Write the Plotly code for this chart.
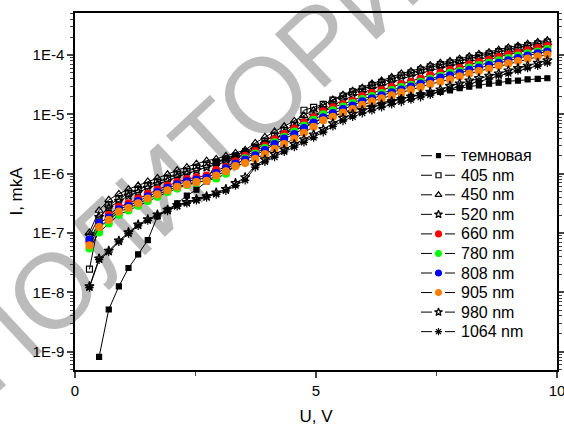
import plotly.graph_objects as go

# Voltage, V
U = [0.30, 0.50, 0.70, 0.91, 1.11, 1.31, 1.51, 1.71, 1.92, 2.12, 2.32, 2.52,
     2.73, 2.93, 3.13, 3.33, 3.53, 3.74, 3.94, 4.14, 4.34, 4.55, 4.75, 4.95,
     5.15, 5.35, 5.56, 5.76, 5.96, 6.16, 6.36, 6.57, 6.77, 6.97, 7.17, 7.37,
     7.58, 7.78, 7.98, 8.18, 8.38, 8.59, 8.79, 8.99, 9.19, 9.39, 9.60, 9.80]

# log10 of current I (mkA)
lg_dark = [None, -9.09, -8.29, -7.90, -7.59, -7.36, -7.12, -6.72,
           -6.61, -6.50, -6.37, -6.27, -6.13, -5.80, -5.74, -5.69,
           -5.62, -5.55, -5.48, -5.41, -5.33, -5.26, -5.19, -5.13,
           -5.07, -5.02, -4.97, -4.92, -4.88, -4.84, -4.80, -4.76,
           -4.73, -4.70, -4.67, -4.645, -4.62, -4.595, -4.556, -4.53,
           -4.51, -4.48, -4.465, -4.44, -4.43, -4.41, -4.40, -4.39]
lg_405 = [-7.61, -6.78, -6.53, -6.43, -6.33, -6.27, -6.20, -6.14,
          -6.08, -6.01, -5.96, -5.90, -5.85, -5.81, -5.77, -5.72,
          -5.66, -5.55, -5.45, -5.36, -5.27, -5.18, -4.93, -4.88,
          -4.83, -4.76, -4.69, -4.62, -4.57, -4.51, -4.46, -4.40,
          -4.34, -4.30, -4.25, -4.20, -4.16, -4.13, -4.09, -4.05,
          -4.01, -3.98, -3.94, -3.90, -3.87, -3.84, -3.81, -3.78]
lg_450 = [-6.99, -6.62, -6.44, -6.34, -6.26, -6.20, -6.13, -6.07,
          -6.01, -5.94, -5.89, -5.83, -5.78, -5.75, -5.70, -5.65,
          -5.60, -5.48, -5.38, -5.29, -5.20, -5.11, -5.02, -4.93,
          -4.84, -4.75, -4.67, -4.60, -4.55, -4.48, -4.43, -4.37,
          -4.31, -4.27, -4.22, -4.17, -4.13, -4.10, -4.06, -4.02,
          -3.98, -3.95, -3.91, -3.87, -3.84, -3.81, -3.78, -3.75]
lg_520 = [-7.05, -6.73, -6.57, -6.46, -6.37, -6.31, -6.24, -6.18,
          -6.12, -6.05, -6.00, -5.94, -5.89, -5.85, -5.80, -5.74,
          -5.67, -5.59, -5.50, -5.41, -5.31, -5.21, -5.11, -5.02,
          -4.93, -4.84, -4.76, -4.69, -4.64, -4.57, -4.52, -4.46,
          -4.40, -4.36, -4.31, -4.26, -4.22, -4.19, -4.15, -4.11,
          -4.07, -4.04, -4.00, -3.96, -3.93, -3.90, -3.87, -3.84]
lg_660 = [-7.15, -6.86, -6.70, -6.56, -6.50, -6.42, -6.34, -6.27,
          -6.20, -6.14, -6.09, -6.06, -6.03, -5.94, -5.89, -5.79,
          -5.70, -5.62, -5.53, -5.42, -5.33, -5.24, -5.14, -5.05,
          -4.95, -4.88, -4.83, -4.77, -4.69, -4.64, -4.59, -4.54,
          -4.49, -4.45, -4.40, -4.34, -4.30, -4.25, -4.22, -4.16,
          -4.12, -4.08, -4.03, -3.99, -3.96, -3.92, -3.88, -3.85]
lg_780 = [-7.26, -6.99, -6.84, -6.69, -6.62, -6.54, -6.46, -6.39,
          -6.31, -6.25, -6.19, -6.15, -6.11, -6.08, -6.00, -5.86,
          -5.74, -5.66, -5.57, -5.47, -5.38, -5.29, -5.19, -5.09,
          -5.00, -4.93, -4.87, -4.81, -4.74, -4.69, -4.64, -4.59,
          -4.54, -4.50, -4.45, -4.40, -4.35, -4.30, -4.27, -4.21,
          -4.17, -4.13, -4.09, -4.05, -4.01, -3.97, -3.94, -3.90]
lg_808 = [-7.11, -6.83, -6.74, -6.60, -6.54, -6.46, -6.38, -6.31,
          -6.24, -6.18, -6.13, -6.10, -6.07, -5.99, -5.91, -5.83,
          -5.76, -5.69, -5.60, -5.50, -5.41, -5.33, -5.23, -5.14,
          -5.05, -4.98, -4.91, -4.85, -4.78, -4.73, -4.68, -4.63,
          -4.58, -4.53, -4.48, -4.43, -4.38, -4.34, -4.30, -4.25,
          -4.21, -4.17, -4.13, -4.09, -4.05, -4.01, -3.97, -3.94]
lg_905 = [-7.21, -6.90, -6.78, -6.64, -6.58, -6.50, -6.42, -6.35,
          -6.28, -6.22, -6.18, -6.14, -6.12, -6.03, -5.96, -5.87,
          -5.82, -5.75, -5.67, -5.58, -5.50, -5.41, -5.31, -5.21,
          -5.10, -5.04, -4.97, -4.91, -4.84, -4.78, -4.73, -4.68,
          -4.63, -4.58, -4.54, -4.49, -4.45, -4.41, -4.36, -4.31,
          -4.27, -4.23, -4.18, -4.14, -4.10, -4.06, -4.02, -3.99]
lg_980 = [-7.90, -7.43, -7.30, -7.13, -6.99, -6.86, -6.77, -6.69,
          -6.61, -6.53, -6.48, -6.43, -6.38, -6.32, -6.26, -6.16,
          -6.06, -5.86, -5.76, -5.67, -5.59, -5.50, -5.42, -5.34,
          -5.25, -5.15, -5.06, -4.99, -4.93, -4.88, -4.83, -4.78,
          -4.74, -4.70, -4.66, -4.62, -4.58, -4.52, -4.48, -4.43,
          -4.39, -4.35, -4.31, -4.26, -4.22, -4.18, -4.13, -4.09]
lg_1064 = [-7.92, -7.45, -7.32, -7.15, -7.01, -6.88, -6.79, -6.71,
           -6.63, -6.55, -6.50, -6.45, -6.40, -6.35, -6.29, -6.20,
           -6.11, -5.89, -5.80, -5.72, -5.63, -5.55, -5.47, -5.39,
           -5.30, -5.20, -5.11, -5.04, -4.98, -4.93, -4.88, -4.83,
           -4.79, -4.75, -4.71, -4.67, -4.62, -4.57, -4.53, -4.48,
           -4.44, -4.40, -4.35, -4.31, -4.26, -4.22, -4.18, -4.13]

names = ["темновая", "405 nm", "450 nm", "520 nm", "660 nm",
         "780 nm", "808 nm", "905 nm", "980 nm", "1064 nm"]

y_decades = [-9, -8, -7, -6, -5, -4]
y_ticktext = ["1E-9", "1E-8", "1E-7", "1E-6", "1E-5", "1E-4"]
x_tickvals = [0, 5, 10]
x_ticktext = ["0", "5", "10"]
x_minor = [2.5, 7.5]

series = [lg_dark, lg_405, lg_450, lg_520, lg_660, lg_780, lg_808, lg_905, lg_980, lg_1064]
styles = [
    dict(symbol="square", color="black", size=5),
    dict(symbol="square-open", color="black", size=6),
    dict(symbol="triangle-up-open", color="black", size=7),
    dict(symbol="star-open", color="black", size=7),
    dict(symbol="circle", color="#ff0000", size=7),
    dict(symbol="circle", color="#00ff00", size=7),
    dict(symbol="circle", color="#0000ff", size=7),
    dict(symbol="circle", color="#ff8000", size=7),
    dict(symbol="star-open", color="black", size=7),
    dict(symbol="asterisk-open", color="black", size=7),
]

FONT = "Liberation Sans, Arial, sans-serif"
W, H = 564, 426
L, R, T, B = 75, 7, 13, 56
PW, PH = W - L - R, H - T - B

def px2paper(px, py):
    return (px - L) / PW, (H - B - py) / PH

fig = go.Figure()
for name, lg, st in zip(names, series, styles):
    yv = [None if v is None else 10 ** v for v in lg]
    fig.add_trace(go.Scatter(
        x=U, y=yv, name=name, mode="lines+markers", showlegend=False,
        line=dict(color="black", width=1),
        marker=dict(symbol=st["symbol"], size=st["size"], color=st["color"],
                    line=dict(color=st["color"], width=1.2)),
    ))

# Hand-drawn legend (Origin style: line - marker - line)
leg_top, leg_step = 155.7, 19.55
for k, (name, st) in enumerate(zip(names, styles)):
    yc = leg_top + k * leg_step
    xa, ya = px2paper(421, yc)
    xb, _ = px2paper(432, yc)
    xc, _ = px2paper(445, yc)
    xd, _ = px2paper(455, yc)
    xm, _ = px2paper(438.5, yc)
    xt, _ = px2paper(459, yc)
    for x0, x1 in ((xa, xb), (xc, xd)):
        fig.add_shape(type="line", xref="paper", yref="paper", x0=x0, x1=x1, y0=ya, y1=ya,
                      line=dict(color="black", width=1))
    fig.add_trace(go.Scatter(
        x=[xm], y=[ya], xaxis="x2", yaxis="y2", mode="markers", showlegend=False,
        marker=dict(symbol=st["symbol"], size=st["size"] - 1, color=st["color"],
                    line=dict(color=st["color"], width=1.2)),
        hoverinfo="skip"))
    fig.add_annotation(x=xt, y=ya, xref="paper", yref="paper", text=name,
                       showarrow=False, xanchor="left", yanchor="middle",
                       font=dict(family=FONT, size=16, color="black"))

# watermark
cx, cy = px2paper(205, 135)
fig.add_shape(type="rect", xref="paper", yref="paper", x0=cx - 0.5, x1=cx + 0.5,
              y0=cy - 0.5, y1=cy + 0.5,
              line=dict(width=0), fillcolor="rgba(0,0,0,0)", layer="below",
              label=dict(text="ПОЛИТОРИЯ", textangle=-43,
                         font=dict(family=FONT, size=106, color="rgba(175,175,175,0.85)"),
                         textposition="middle center"))

fig.update_layout(
    width=W, height=H,
    margin=dict(l=L, r=R, t=T, b=B),
    paper_bgcolor="white", plot_bgcolor="rgba(0,0,0,0)",
    font=dict(family=FONT, size=15, color="black"),
    showlegend=False,
    xaxis2=dict(overlaying="x", range=[0, 1], visible=False, fixedrange=True),
    yaxis2=dict(overlaying="y", range=[0, 1], visible=False, fixedrange=True),
)
fig.update_layout(xaxis=dict(
    range=[0, 10], tickvals=x_tickvals, ticktext=x_ticktext, automargin=False,
    ticklabeloverflow="allow",
    showgrid=False, zeroline=False, showline=True, linecolor="black",
    linewidth=1.5, mirror=True, ticks="outside", ticklen=6, tickwidth=1.5,
    minor=dict(tickvals=x_minor, ticks="outside", ticklen=4, tickwidth=1.2, showgrid=False),
    tickfont=dict(size=15),
    title=dict(text="U, V", font=dict(size=17), standoff=20)))
minor_vals = [k * 10 ** e for e in [-10] + y_decades for k in range(2, 10)]
fig.update_layout(yaxis=dict(
    type="log", range=[-9.31, -3.29], tickvals=[10 ** e for e in y_decades],
    ticktext=y_ticktext, automargin=False,
    showgrid=False, zeroline=False, showline=True, linecolor="black",
    linewidth=1.5, mirror="allticks", ticks="outside", ticklen=6, tickwidth=1.5,
    minor=dict(tickvals=minor_vals, ticks="outside", ticklen=3, tickwidth=1, showgrid=False),
    tickfont=dict(size=15),
    title=dict(text="I, mkA", font=dict(size=17), standoff=6)))

fig.write_html("out.html", config={"displayModeBar": False},
               post_script="document.body.style.margin='0px';document.body.style.overflow='hidden';")
